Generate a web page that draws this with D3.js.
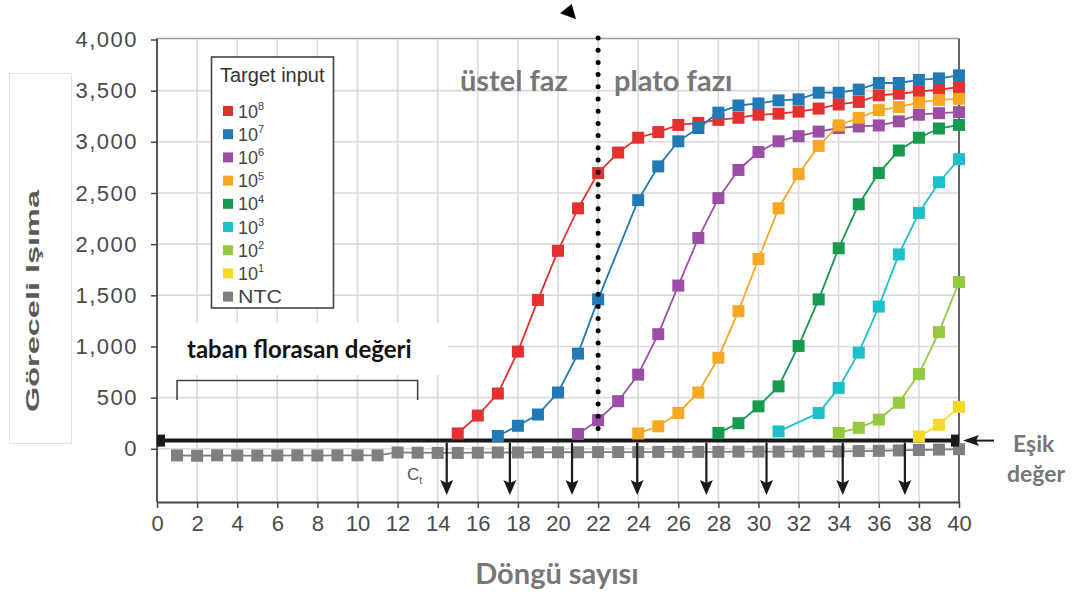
<!DOCTYPE html>
<html>
<head>
<meta charset="utf-8">
<script src="https://cdn.jsdelivr.net/npm/d3@7"></script>
<style>
  body { margin: 0; background: #fff; }
  svg { display: block; }
</style>
</head>
<body>
<svg id="chart" width="1089" height="594"></svg>
<script>
// ---- data -------------------------------------------------------------
const xTicks = d3.range(0, 41, 2);
const yTicks = [0, 500, 1000, 1500, 2000, 2500, 3000, 3500, 4000];

const seriesExp = ["8", "7", "6", "5", "4", "3", "2", "1"];
const seriesColors = ["#e2312f", "#2179b5", "#9a4ea6", "#f6a824", "#169a4f", "#1dbfc8", "#94c940", "#f6d82a"];
const ntcColor = "#7f7f7f";

// [cycle, relative fluorescence]
const input1e8 = [[15,150],[16,325],[17,540],[18,950],[19,1455],[20,1935],[21,2350],[22,2695],[23,2895],[24,3040],[25,3095],[26,3165],[27,3185],[28,3215],[29,3235],[30,3265],[31,3275],[32,3295],[33,3325],[34,3365],[35,3390],[36,3455],[37,3470],[38,3490],[39,3510],[40,3535]];
const input1e7 = [[17,125],[18,225],[19,335],[20,550],[21,930],[22,1460],[24,2430],[25,2760],[26,3005],[27,3135],[28,3285],[29,3355],[30,3375],[31,3405],[32,3415],[33,3480],[34,3480],[35,3510],[36,3575],[37,3575],[38,3605],[39,3620],[40,3650]];
const input1e6 = [[21,145],[22,280],[23,465],[24,725],[25,1120],[26,1595],[27,2060],[28,2450],[29,2725],[30,2900],[31,3005],[32,3055],[33,3100],[34,3135],[35,3150],[36,3160],[37,3200],[38,3265],[39,3280],[40,3290]];
const input1e5 = [[24,150],[25,220],[26,350],[27,550],[28,890],[29,1345],[30,1855],[31,2350],[32,2685],[33,2960],[34,3160],[35,3235],[36,3310],[37,3340],[38,3385],[39,3410],[40,3420]];
const input1e4 = [[28,155],[29,250],[30,415],[31,610],[32,1005],[33,1460],[34,1960],[35,2390],[36,2695],[37,2915],[38,3040],[39,3130],[40,3165]];
const input1e3 = [[31,170],[33,350],[34,595],[35,940],[36,1390],[37,1900],[38,2305],[39,2605],[40,2830]];
const input1e2 = [[34,155],[35,205],[36,285],[37,450],[38,730],[39,1140],[40,1630]];
const input1e1 = [[38,120],[39,235],[40,410]];
const seriesData = [input1e8, input1e7, input1e6, input1e5, input1e4, input1e3, input1e2, input1e1];

// no-template control, cycles 1..40
const ntcValues = [-65,-68,-64,-66,-66,-66,-64,-66,-64,-64,-64,-36,-38,-40,-40,-38,-36,-36,-34,-34,-34,-32,-32,-32,-30,-30,-30,-30,-28,-28,-28,-26,-26,-26,-22,-20,-16,-12,-8,-4];

const thresholdValue = 80;
const ctValues = [14.45, 17.6, 20.7, 23.95, 27.4, 30.4, 34.2, 37.3];
const phaseBoundary = 22;
const baselineRange = [1, 13];

// ---- layout -----------------------------------------------------------
const svg = d3.select("#chart");
const plot = { left: 157, right: 959, top: 39.5, bottom: 502 };
const x = d3.scaleLinear().domain([0, 40]).range([plot.left, plot.right]);
const y = d3.scaleLinear().domain([-520, 4000]).range([plot.bottom, plot.top]);
const markerSize = 12;

const axisFont = "'Liberation Sans', Arial, Helvetica, sans-serif";
const noteFont = "Lato, 'Open Sans', sans-serif";

// y-axis title panel
svg.append("rect").attr("x", 9.5).attr("y", 73.5).attr("width", 62).attr("height", 370)
  .attr("fill", "#fff").attr("stroke", "#e2e2e2");
svg.append("text")
  .attr("transform", "translate(39,301) rotate(-90)")
  .attr("text-anchor", "middle")
  .attr("font-family", axisFont).attr("font-weight", "bold").attr("font-size", 18)
  .attr("fill", "#5a5a5a")
  .attr("textLength", 222).attr("lengthAdjust", "spacingAndGlyphs")
  .text("Göreceli Işıma");

// grid
const grid = svg.append("g");
grid.selectAll("line.v").data(xTicks.filter(d => d > 0 && d < 40)).join("line")
  .attr("class", "v")
  .attr("x1", d => x(d)).attr("x2", d => x(d))
  .attr("y1", plot.top).attr("y2", plot.bottom)
  .attr("stroke", "#dadada").attr("stroke-width", 1.6);
grid.selectAll("line.h").data(yTicks.filter(d => d < 4000)).join("line")
  .attr("class", "h")
  .attr("x1", plot.left).attr("x2", plot.right)
  .attr("y1", d => y(d)).attr("y2", d => y(d))
  .attr("stroke", "#dadada").attr("stroke-width", 1.6);

// frame: top and right edges
svg.append("line").attr("x1", plot.left).attr("x2", plot.right)
  .attr("y1", plot.top - 1).attr("y2", plot.top - 1)
  .attr("stroke", "#9a9a9a").attr("stroke-width", 1.5);
svg.append("line").attr("x1", plot.right).attr("x2", plot.right)
  .attr("y1", plot.top - 1).attr("y2", plot.bottom)
  .attr("stroke", "#555").attr("stroke-width", 1.8);

// axes
const xAxis = svg.append("g")
  .attr("transform", `translate(0,${plot.bottom})`)
  .call(d3.axisBottom(x).tickValues(xTicks).tickSize(6).tickPadding(7.5).tickSizeOuter(0));
const yAxis = svg.append("g")
  .attr("transform", `translate(${plot.left},0)`)
  .call(d3.axisLeft(y).tickValues(yTicks).tickFormat(d3.format(",")).tickSize(6).tickPadding(13).tickSizeOuter(0));
[xAxis, yAxis].forEach(g => {
  g.select(".domain").attr("stroke", "#444").attr("stroke-width", 1.8);
  g.selectAll(".tick line").attr("stroke", "#444").attr("stroke-width", 1.5);
  g.selectAll("text").attr("font-family", axisFont).attr("font-size", 22).attr("fill", "#4a4a4a");
});
yAxis.selectAll("text").attr("letter-spacing", 1.5);
yAxis.select(".domain").attr("d", `M0,${plot.top - 1}V${plot.bottom}`);

// x-axis title
svg.append("text").attr("x", 557).attr("y", 584).attr("text-anchor", "middle")
  .attr("font-family", noteFont).attr("font-weight", "bold").attr("font-size", 29)
  .attr("fill", "#777").text("Döngü sayısı");

// baseline annotation
svg.append("rect").attr("x", plot.left + 1).attr("y", 323).attr("width", 290).attr("height", 52).attr("fill", "#fff");
svg.append("text").attr("x", 187).attr("y", 358)
  .attr("font-family", noteFont).attr("font-weight", "bold").attr("font-size", 24)
  .attr("fill", "#111").text("taban florasan değeri");
svg.append("path")
  .attr("d", `M${x(baselineRange[0])},400V380.5H${x(baselineRange[1])}V400`)
  .attr("fill", "none").attr("stroke", "#444").attr("stroke-width", 1.6);

// no-template control
const ntcPts = ntcValues.map((v, i) => [i + 1, v]);
const line = d3.line().x(d => x(d[0])).y(d => y(d[1]));
svg.append("path").datum(ntcPts).attr("d", line)
  .attr("fill", "none").attr("stroke", ntcColor).attr("stroke-width", 1.8);
svg.append("g").selectAll("rect").data(ntcPts).join("rect")
  .attr("x", d => x(d[0]) - markerSize / 2).attr("y", d => y(d[1]) - markerSize / 2)
  .attr("width", markerSize).attr("height", markerSize).attr("fill", ntcColor);

// threshold line
const ty = y(thresholdValue);
svg.append("line").attr("x1", plot.left).attr("x2", plot.right).attr("y1", ty).attr("y2", ty)
  .attr("stroke", "#1a1a1a").attr("stroke-width", 4);
svg.append("rect").attr("x", plot.left).attr("y", ty - 6).attr("width", 8).attr("height", 12).attr("fill", "#1a1a1a");
svg.append("rect").attr("x", plot.right - 8).attr("y", ty - 6).attr("width", 8).attr("height", 12).attr("fill", "#1a1a1a");

// amplification curves
seriesData.forEach((pts, i) => {
  const g = svg.append("g");
  g.append("path").datum(pts).attr("d", line)
    .attr("fill", "none").attr("stroke", seriesColors[i]).attr("stroke-width", 1.8);
  g.selectAll("rect").data(pts).join("rect")
    .attr("x", d => x(d[0]) - markerSize / 2).attr("y", d => y(d[1]) - markerSize / 2)
    .attr("width", markerSize).attr("height", markerSize).attr("fill", seriesColors[i]);
});

// phase boundary (dotted)
svg.append("line").attr("x1", x(phaseBoundary)).attr("x2", x(phaseBoundary))
  .attr("y1", 38).attr("y2", 433)
  .attr("stroke", "#000").attr("stroke-width", 5)
  .attr("stroke-linecap", "round").attr("stroke-dasharray", "0 12.2");
svg.append("path").attr("d", "M560,13.3L571.7,4L576,19.3Z").attr("fill", "#000");

svg.append("text").attr("x", 460).attr("y", 91)
  .attr("font-family", noteFont).attr("font-weight", "bold").attr("font-size", 29)
  .attr("fill", "#777").text("üstel faz");
svg.append("text").attr("x", 614).attr("y", 91)
  .attr("font-family", noteFont).attr("font-weight", "bold").attr("font-size", 29)
  .attr("fill", "#777").text("plato fazı");

// Ct arrows
const ctG = svg.append("g");
ctValues.forEach(c => {
  const cx = x(c);
  ctG.append("line").attr("x1", cx).attr("x2", cx).attr("y1", ty + 2).attr("y2", 484)
    .attr("stroke", "#1a1a1a").attr("stroke-width", 2.2);
  ctG.append("path").attr("d", `M${cx - 6.5},480L${cx},495L${cx + 6.5},480L${cx},483Z`).attr("fill", "#1a1a1a");
});
const ctLabel = svg.append("text").attr("x", 407).attr("y", 480)
  .attr("font-family", axisFont).attr("font-size", 17).attr("fill", "#555");
ctLabel.append("tspan").text("C");
ctLabel.append("tspan").attr("dy", 4).attr("font-size", 10).text("t");

// threshold label
svg.append("line").attr("x1", 976).attr("x2", 994).attr("y1", ty).attr("y2", ty)
  .attr("stroke", "#1a1a1a").attr("stroke-width", 2);
svg.append("path").attr("d", `M963,${ty}L979,${ty - 5.5}L976,${ty}L979,${ty + 5.5}Z`).attr("fill", "#1a1a1a");
svg.append("text").attr("x", 1013).attr("y", 452)
  .attr("font-family", noteFont).attr("font-weight", "bold").attr("font-size", 23)
  .attr("fill", "#777").text("Eşik");
svg.append("text").attr("x", 1007).attr("y", 482)
  .attr("font-family", noteFont).attr("font-weight", "bold").attr("font-size", 23)
  .attr("fill", "#777").text("değer");

// legend
const legend = svg.append("g");
legend.append("rect").attr("x", 211.5).attr("y", 57).attr("width", 122).attr("height", 251)
  .attr("fill", "#fff").attr("stroke", "#444").attr("stroke-width", 1.6);
legend.append("text").attr("x", 220).attr("y", 82)
  .attr("font-family", axisFont).attr("font-size", 20).attr("fill", "#333").text("Target input");
const legendItems = seriesExp.map((e, i) => ({ exp: e, color: seriesColors[i] }))
  .concat([{ exp: null, color: ntcColor }]);
legendItems.forEach((d, i) => {
  const cy = 111 + i * 23.2;
  legend.append("rect").attr("x", 223).attr("y", cy - 5).attr("width", 10).attr("height", 10).attr("fill", d.color);
  const t = legend.append("text").attr("x", 238).attr("y", cy + 6.5)
    .attr("font-family", axisFont).attr("font-size", 18).attr("fill", "#444");
  if (d.exp) {
    t.append("tspan").text("10");
    t.append("tspan").attr("dy", -7.5).attr("font-size", 11).text(d.exp);
  } else {
    t.attr("textLength", 44).attr("lengthAdjust", "spacingAndGlyphs").text("NTC");
  }
});
</script>
</body>
</html>
